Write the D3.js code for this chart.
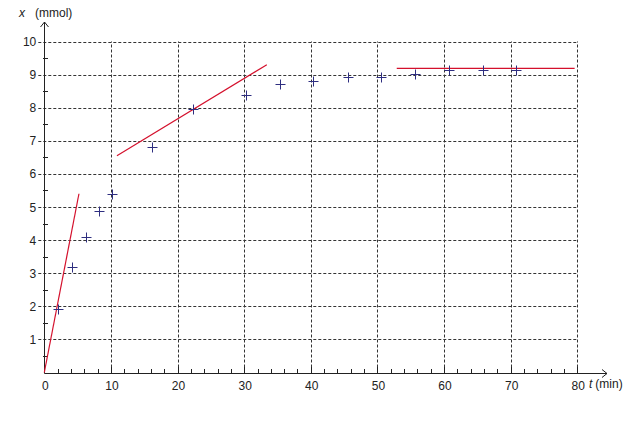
<!DOCTYPE html>
<html><head><meta charset="utf-8">
<script src="https://cdn.jsdelivr.net/npm/d3@7"></script>
<style>body{margin:0;background:#fff}svg{display:block}text{font-family:"Liberation Sans",Arial,sans-serif}</style>
</head><body>
<svg id="c" width="628" height="422"></svg>
<script>
const timeMin = [2, 4.1, 6.2, 8.2, 10.1, 16.2, 22.3, 30.3, 35.4, 40.4, 45.6, 50.6, 55.7, 60.7, 65.8, 70.8];
const amountMmol = [1.93, 3.2, 4.1, 4.89, 5.39, 6.8, 7.97, 8.38, 8.72, 8.82, 8.94, 8.94, 9.02, 9.15, 9.15, 9.15];
const tangentLines = [
  [[0, 0], [5.2, 5.4]],
  [[10.9, 6.55], [33.4, 9.3]],
  [[52.9, 9.19], [79.6, 9.19]]
];
const xTicks = [0, 10, 20, 30, 40, 50, 60, 70, 80];
const yTicks = [1, 2, 3, 4, 5, 6, 7, 8, 9, 10];

const svg = d3.select("#c");
const x = d3.scaleLinear().domain([0, 80]).range([44.3, 577.3]);
const y = d3.scaleLinear().domain([0, 10]).range([372.5, 41.5]);
const ink = "#222";
const g = svg.append("g");

// grid: horizontal
g.selectAll(".hg").data(yTicks).join("line")
  .attr("x1", x(0) - 6).attr("x2", x(80))
  .attr("y1", d => Math.round(y(d)) + 0.5).attr("y2", d => Math.round(y(d)) + 0.5)
  .attr("stroke", "#333").attr("stroke-dasharray", "3,2").attr("stroke-width", 1);
// grid: vertical
g.selectAll(".vg").data(xTicks.filter(d => d > 0)).join("line")
  .attr("x1", d => Math.round(x(d)) + 0.5).attr("x2", d => Math.round(x(d)) + 0.5)
  .attr("y1", y(0)).attr("y2", y(10))
  .attr("stroke", "#333").attr("stroke-dasharray", "3,2").attr("stroke-width", 1);

// minor ticks x
const xMinor = d3.range(2, 80, 2).filter(d => d % 10 !== 0);
g.selectAll(".xm").data(xMinor).join("line")
  .attr("x1", d => Math.round(x(d)) + 0.5).attr("x2", d => Math.round(x(d)) + 0.5)
  .attr("y1", Math.round(y(0)) - 4).attr("y2", Math.round(y(0)) + 1)
  .attr("stroke", ink);
g.selectAll(".xM").data(xTicks.filter(d => d > 0)).join("line")
  .attr("x1", d => Math.round(x(d)) + 0.5).attr("x2", d => Math.round(x(d)) + 0.5)
  .attr("y1", Math.round(y(0)) - 6).attr("y2", Math.round(y(0)) + 1)
  .attr("stroke", ink);
// minor ticks y
const yMinor = d3.range(0.5, 10, 1);
g.selectAll(".ym").data(yMinor).join("line")
  .attr("x1", Math.round(x(0)) - 1).attr("x2", Math.round(x(0)) + 4)
  .attr("y1", d => Math.round(y(d)) + 0.5).attr("y2", d => Math.round(y(d)) + 0.5)
  .attr("stroke", ink);

// axes
const ax0 = Math.round(x(0)) + 0.5, ay0 = Math.round(y(0)) + 0.5;
g.append("line").attr("x1", ax0).attr("x2", ax0).attr("y1", ay0).attr("y2", 22).attr("stroke", ink);
g.append("path").attr("d", `M${ax0-4},${27}L${ax0},${22}L${ax0+4},${27}`).attr("fill", "none").attr("stroke", ink);
g.append("line").attr("x1", ax0).attr("x2", 607).attr("y1", ay0).attr("y2", ay0).attr("stroke", ink);
g.append("path").attr("d", `M602,${ay0-4}L607,${ay0}L602,${ay0+4}`).attr("fill", "none").attr("stroke", ink);

// tick labels
g.selectAll(".yl").data(yTicks).join("text")
  .attr("x", x(0) - 8).attr("y", d => y(d) + 4.5)
  .attr("text-anchor", "end").attr("font-size", 12).attr("fill", ink).text(d => d);
g.selectAll(".xl").data(xTicks).join("text")
  .attr("x", d => x(d) + 1).attr("y", y(0) + 17)
  .attr("text-anchor", "middle").attr("font-size", 12).attr("fill", ink).text(d => d);

// axis titles
const yt = g.append("text").attr("x", 19).attr("y", 17).attr("font-size", 12).attr("fill", ink);
yt.append("tspan").attr("font-style", "italic").text("x");
yt.append("tspan").attr("dx", 10).text("(mmol)");
const xt = g.append("text").attr("x", 589).attr("y", 388).attr("font-size", 12).attr("fill", ink);
xt.append("tspan").attr("font-style", "italic").text("t");
xt.append("tspan").attr("dx", 3).text("(min)");

// tangent lines
const line = d3.line().x(d => x(d[0])).y(d => y(d[1]));
g.selectAll(".tl").data(tangentLines).join("path")
  .attr("d", line).attr("fill", "none").attr("stroke", "#d4102c").attr("stroke-width", 1.2);

// data crosses
const pts = timeMin.map((t, i) => [t, amountMmol[i]]);
const cg = g.selectAll(".pt").data(pts).join("g")
  .attr("transform", d => `translate(${Math.round(x(d[0])) + 0.5},${Math.round(y(d[1])) + 0.5})`);
cg.append("line").attr("x1", -5).attr("x2", 5).attr("stroke", "#2e2e80");
cg.append("line").attr("y1", -5).attr("y2", 5).attr("stroke", "#2e2e80");
</script>
</body></html>
